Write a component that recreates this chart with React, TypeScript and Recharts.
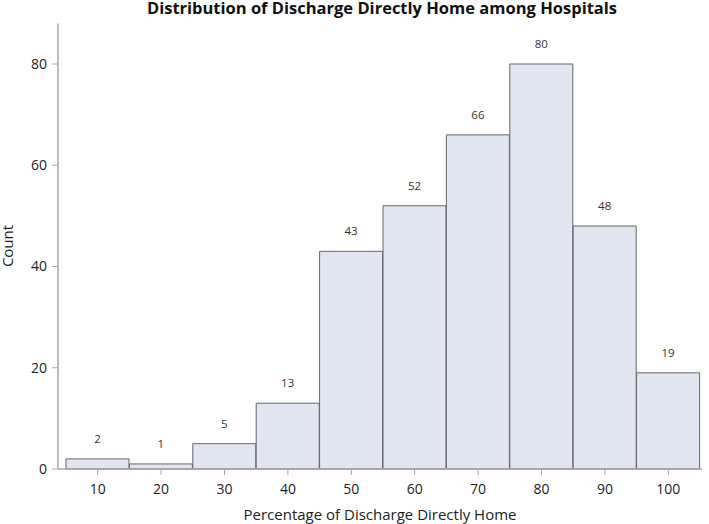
import React from "react";
import { BarChart, Bar, XAxis, YAxis, LabelList, Label } from "recharts";

const bins = ["10", "20", "30", "40", "50", "60", "70", "80", "90", "100"];
const counts = [2, 1, 5, 13, 43, 52, 66, 80, 48, 19];
const yTicks = [0, 20, 40, 60, 80];

const data = bins.map((b, i) => ({ bin: b, count: counts[i] }));

const FONT = "'Open Sans', 'DejaVu Sans', sans-serif";
const AXIS_GRAY = "#a6a6a6";

export default function App() {
  return (
    <div style={{ position: "absolute", left: 0, top: 0, width: 709, height: 524, background: "#fff", fontFamily: FONT }}>
      <div
        style={{
          position: "absolute",
          left: 59,
          top: 0,
          width: 646,
          textAlign: "center",
          fontSize: 16.5,
          lineHeight: "15px",
          fontWeight: 700,
          color: "#111",
          whiteSpace: "nowrap",
        }}
      >
        Distribution of Discharge Directly Home among Hospitals
      </div>
      <div
        style={{
          position: "absolute",
          left: 7.2 - 50,
          top: 245.5 - 7,
          width: 100,
          height: 14,
          lineHeight: "14px",
          fontSize: 15,
          textAlign: "center",
          color: "#222",
          transform: "rotate(-90deg)",
          whiteSpace: "nowrap",
          zIndex: 2,
        }}
      >
        Count
      </div>
      <BarChart
        width={709}
        height={524}
        data={data}
        margin={{ top: 23.5, right: 7, bottom: 0, left: 0 }}
        barCategoryGap={0}
        barGap={0}
      >
        <XAxis
          xAxisId="top"
          orientation="top"
          dataKey="bin"
          height={0}
          tick={false}
          tickLine={false}
          axisLine={{ stroke: AXIS_GRAY, strokeWidth: 1.5 }}
        />
        <YAxis
          yAxisId="right"
          orientation="right"
          width={0}
          tick={false}
          tickLine={false}
          domain={[0, 88]}
          axisLine={{ stroke: AXIS_GRAY, strokeWidth: 1.5 }}
        />
        <XAxis
          dataKey="bin"
          height={55}
          padding={{ left: 8, right: 2 }}
          tickSize={6}
          tickMargin={9}
          tick={{ fontSize: 14, fill: "#222", fontFamily: FONT }}
          tickLine={{ stroke: AXIS_GRAY }}
          axisLine={{ stroke: AXIS_GRAY, strokeWidth: 1.5 }}
        >
          <Label
            value="Percentage of Discharge Directly Home"
            position="insideBottom"
            offset={4}
            style={{ fontSize: 15, fill: "#222", fontFamily: FONT }}
          />
        </XAxis>
        <YAxis
          width={58}
          domain={[0, 88]}
          ticks={yTicks}
          tickSize={6}
          tickMargin={5}
          tick={{ fontSize: 14, fill: "#222", fontFamily: FONT }}
          tickLine={{ stroke: AXIS_GRAY }}
          axisLine={{ stroke: AXIS_GRAY, strokeWidth: 1.5 }}
        />
        <Bar dataKey="count" fill="#e2e6f0" stroke="#666" strokeWidth={1} isAnimationActive={false}>
          <LabelList
            dataKey="count"
            position="top"
            offset={16}
            fill="#333"
            style={{ fontSize: 11.5, fill: "#333", fontFamily: FONT }}
          />
        </Bar>
      </BarChart>
    </div>
  );
}
